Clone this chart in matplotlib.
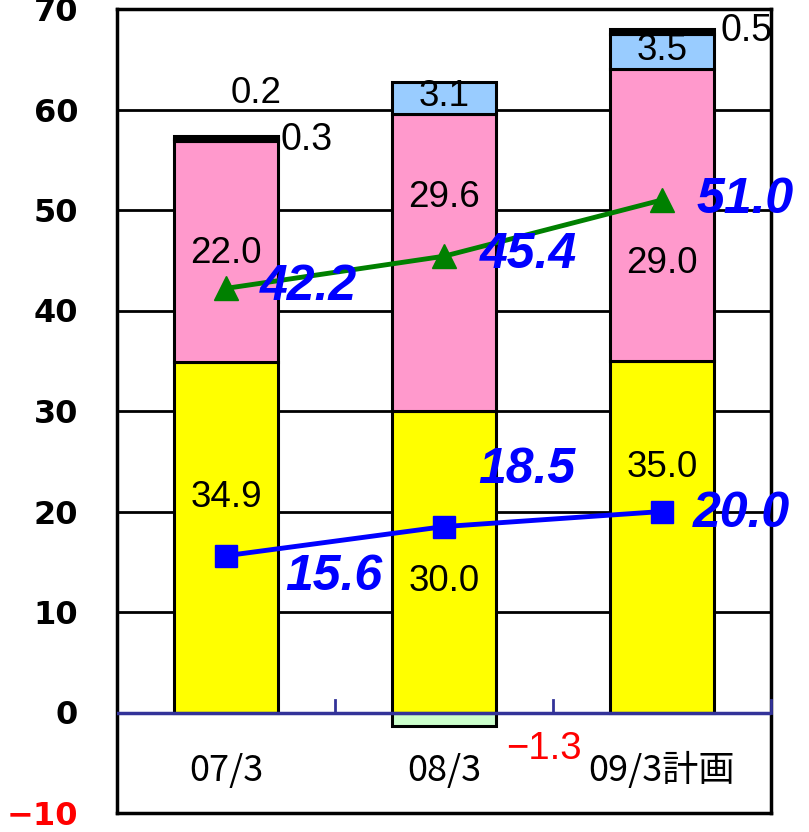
import matplotlib
matplotlib.use('Agg')
import matplotlib.pyplot as plt
import numpy as np

# data
categories = ['07/3', '08/3', '09/3計画']
yellow_vals = [34.9, 30.0, 35.0]
pink_vals = [22.0, 29.6, 29.0]
blue_vals = [0.2, 3.1, 3.5]
black_vals = [0.3, 0.0, 0.5]
green_neg = [0.0, -1.3, 0.0]
tri_line = [42.2, 45.4, 51.0]
sq_line = [15.6, 18.5, 20.0]
yticks = [-10, 0, 10, 20, 30, 40, 50, 60, 70]

NUM_FONT = ['Liberation Sans', 'DejaVu Sans']
CAT_FONT = ['Noto Sans CJK JP', 'DejaVu Sans']


def main():
    fig = plt.figure(figsize=(8.09, 8.32), dpi=100)
    ax = fig.add_axes([117 / 809, 19 / 832, 654 / 809, 804 / 832])

    x = np.arange(len(categories))
    w = 0.48
    ec = dict(edgecolor='black', linewidth=2.2, zorder=3)

    yel = np.array(yellow_vals)
    pnk = np.array(pink_vals)
    blu = np.array(blue_vals)
    blk = np.array(black_vals)

    ax.bar(x, yel, w, color='#FFFF00', **ec)
    ax.bar(x, pnk, w, bottom=yel, color='#FF99CC', **ec)
    ax.bar(x, blu, w, bottom=yel + pnk, color='#99CCFF', **ec)
    has_blk = blk > 0
    ax.bar(x[has_blk], blk[has_blk], w, bottom=(yel + pnk + blu)[has_blk],
           color='black', **ec)
    neg = np.array(green_neg)
    ax.bar(x[neg < 0], neg[neg < 0], w, color='#CCFFCC', **ec)

    # grid + zero line
    for g in range(10, 70, 10):
        ax.axhline(g, color='black', lw=2, zorder=1)
    ax.axhline(0, color='#333399', lw=2.5, zorder=4)
    for b in [0.5, 1.5, 2.5]:
        ax.plot([b, b], [0, 1.2], color='#333399', lw=2, zorder=4, clip_on=False)

    # lines
    ax.plot(x, tri_line, color='#008000', lw=3.5, marker='^', markersize=17,
            zorder=5, clip_on=False)
    ax.plot(x, sq_line, color='#0000FF', lw=3.5, marker='s', markersize=16,
            zorder=5, clip_on=False)

    # bar labels
    inner = dict(fontsize=26.5, family=NUM_FONT, ha='center', va='center', zorder=6)
    ax.text(x[0], 21.4, f'{yel[0]:.1f}', **inner)
    ax.text(x[1], 13.0, f'{yel[1]:.1f}', **inner)
    ax.text(x[2], 24.4, f'{yel[2]:.1f}', **inner)
    ax.text(x[0], 45.7, f'{pnk[0]:.1f}', **inner)
    ax.text(x[1], 51.2, f'{pnk[1]:.1f}', **inner)
    ax.text(x[2], 44.7, f'{pnk[2]:.1f}', **inner)
    ax.text(x[1], yel[1] + pnk[1] + blu[1] / 2 + 0.1, f'{blu[1]:.1f}', **inner)
    ax.text(x[2], yel[2] + pnk[2] + blu[2] / 2 + 0.1, f'{blu[2]:.1f}', **inner)
    ax.text(x[0] + 0.14, 61.6, f'{blu[0]:.1f}', **inner)
    side = dict(fontsize=27, family=NUM_FONT, ha='left', va='center', zorder=6,
                clip_on=False)
    ax.text(x[0] + w / 2 + 0.01, 57.0, f'{blk[0]:.1f}', **side)
    ax.text(x[2] + w / 2 + 0.03, 67.8, f'{blk[2]:.1f}', **side)
    ax.text(x[1] + 0.46, -3.6, '\u2212' + f'{abs(neg[1]):.1f}', fontsize=27.5,
            family=NUM_FONT, color='#FF0000', ha='center', va='center')

    # line labels
    ll = dict(fontsize=36, family=NUM_FONT, color='#0000FF', weight='bold',
              style='italic', ha='left', va='center', zorder=7, clip_on=False)
    tri_off = [(0.155, 42.3), (1.165, 45.5), (2.16, 51.0)]
    sq_off = [(0.27, 13.5), (1.156, 24.1), (2.142, 19.8)]
    for v, (px, py) in zip(tri_line, tri_off):
        ax.text(px, py, f'{v:.1f}', **ll)
    for v, (px, py) in zip(sq_line, sq_off):
        ax.text(px, py, f'{v:.1f}', **ll)

    # category labels inside plot
    for xi, c in zip(x, categories):
        ax.text(xi, -5.8, c, fontsize=26, family=CAT_FONT, ha='center', va='center')

    ax.set_xlim(-0.5, 2.5)
    ax.set_ylim(-10, 70)
    ax.set_xticks([])
    ax.set_yticks(yticks)
    ax.set_yticklabels(['\u221210' if t < 0 else str(t) for t in yticks],
                       fontsize=23, weight='bold', family='DejaVu Sans')
    ax.get_yticklabels()[0].set_color('#FF0000')
    ax.tick_params(axis='y', length=0, pad=28)
    for s in ax.spines.values():
        s.set_linewidth(2.5)
        s.set_color('black')

    plt.savefig('out.png', dpi=100)
    plt.close()


if __name__ == '__main__':
    main()
